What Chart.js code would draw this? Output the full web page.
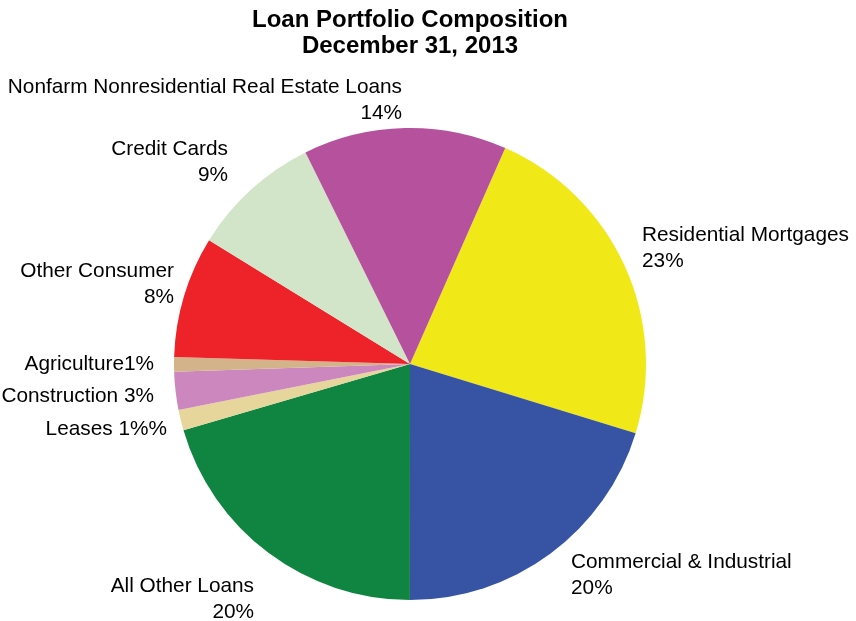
<!DOCTYPE html>
<html>
<head>
<meta charset="utf-8">
<script src="https://cdn.jsdelivr.net/npm/chart.js@4"></script>
<style>
  html, body { margin: 0; padding: 0; background: #fff; }
  #wrap { width: 856px; height: 621px; }
</style>
</head>
<body>
<div id="wrap"><canvas id="pie" width="856" height="621"></canvas></div>
<script>
const TITLE_LINES = ["Loan Portfolio Composition", "December 31, 2013"];

const CATEGORIES = [
  "Residential Mortgages",
  "Commercial & Industrial",
  "All Other Loans",
  "Leases",
  "Construction",
  "Agriculture",
  "Other Consumer",
  "Credit Cards",
  "Nonfarm Nonresidential Real Estate Loans",
];

// percent of total loans
const SHARES = [23.1, 20.25, 20.45, 1.4, 2.6, 1.0, 8.3, 8.9, 13.9];

const COLORS = [
  "#F0E817",
  "#3753A4",
  "#108542",
  "#E6D69B",
  "#CC87BE",
  "#D3B48A",
  "#EE2229",
  "#D2E5C9",
  "#B6519E",
];

// where each label sits, relative to the pie centre (baseline of first line)
// stacked: name on one line, percent on the next; inline: both on one line
const LABEL_LAYOUT = [
  { dx: 232, dy: -123, align: "left", mode: "stacked" },
  { dx: 161, dy: 204, align: "left", mode: "stacked" },
  { dx: -156, dy: 228, align: "right", mode: "stacked" },
  { dx: -243, dy: 71, align: "right", mode: "inline", sep: " ", suffix: "%" },
  { dx: -256, dy: 38, align: "right", mode: "inline", sep: " " },
  { dx: -256, dy: 6, align: "right", mode: "inline", sep: "" },
  { dx: -236, dy: -87, align: "right", mode: "stacked" },
  { dx: -182, dy: -209, align: "right", mode: "stacked" },
  { dx: -8, dy: -271, align: "right", mode: "stacked" },
];

const FONT = '"Liberation Sans", Arial, Helvetica, sans-serif';

const sliceLabels = {
  id: "sliceLabels",
  afterDraw(chart) {
    const ctx = chart.ctx;
    const arc = chart.getDatasetMeta(0).data[0];
    const cx = arc.x;
    const cy = arc.y;

    ctx.save();
    ctx.fillStyle = "#000";
    ctx.textBaseline = "alphabetic";

    // title, centred over the pie
    ctx.font = "bold 24px " + FONT;
    ctx.textAlign = "center";
    ctx.fillText(TITLE_LINES[0], cx, 27);
    ctx.fillText(TITLE_LINES[1], cx, 52.5);

    ctx.font = "20.8px " + FONT;
    CATEGORIES.forEach((name, i) => {
      const lay = LABEL_LAYOUT[i];
      const pct = Math.round(SHARES[i]) + "%";
      const x = cx + lay.dx;
      const y = cy + lay.dy;
      ctx.textAlign = lay.align;
      if (lay.mode === "stacked") {
        ctx.fillText(name, x, y);
        ctx.fillText(pct, x, y + 26.3);
      } else {
        ctx.fillText(name + lay.sep + pct + (lay.suffix || ""), x, y);
      }
    });
    ctx.restore();
  },
};

new Chart(document.getElementById("pie"), {
  type: "pie",
  data: {
    labels: CATEGORIES,
    datasets: [
      {
        data: SHARES,
        backgroundColor: COLORS,
        borderWidth: 0,
      },
    ],
  },
  options: {
    responsive: false,
    animation: false,
    rotation: 23.8,
    layout: { padding: { top: 128, bottom: 21, left: 0, right: 36 } },
    plugins: {
      legend: { display: false },
      title: { display: false },
      tooltip: { enabled: false },
    },
  },
  plugins: [sliceLabels],
});
</script>
</body>
</html>
